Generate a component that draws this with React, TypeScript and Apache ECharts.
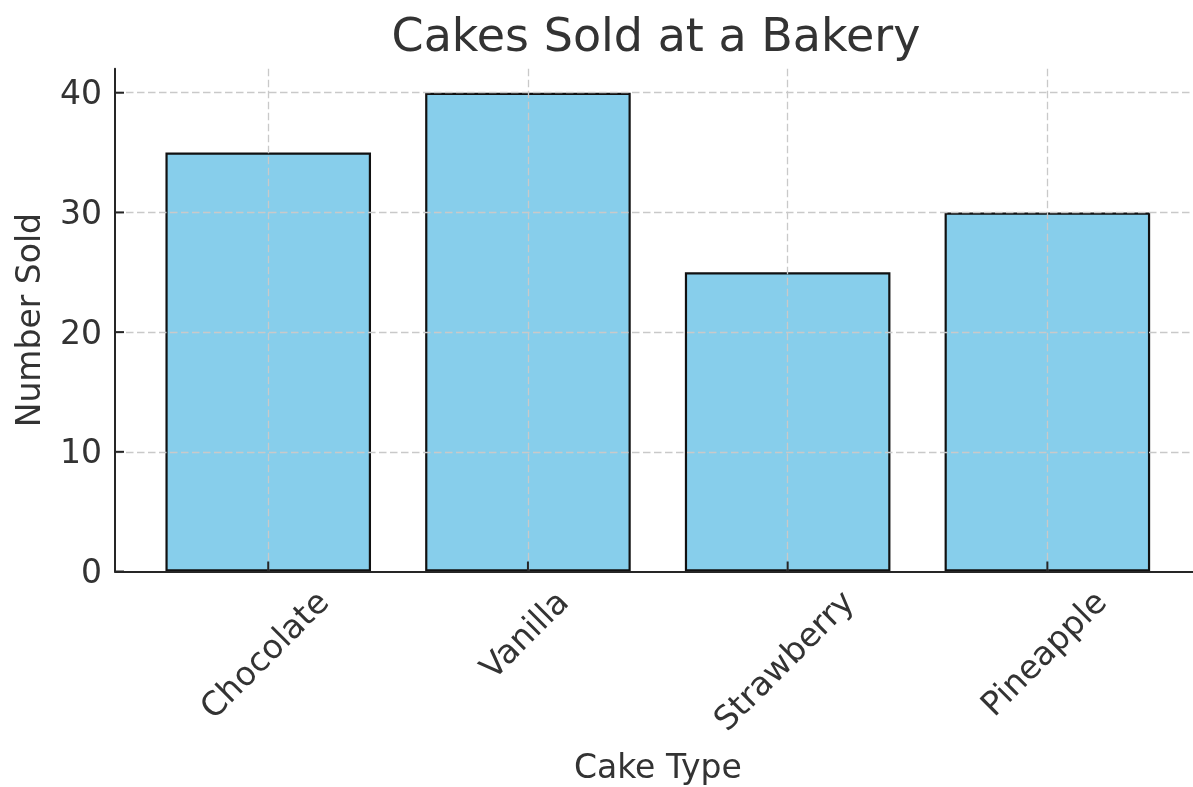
import React, { useEffect, useRef } from 'react';
import * as echarts from 'echarts';

const categories = ['Chocolate', 'Vanilla', 'Strawberry', 'Pineapple'];
const sold = [35, 40, 25, 30];
const yTicks = [0, 10, 20, 30, 40];
const titleText = 'Cakes Sold at a Bakery';
const xName = 'Cake Type';
const yName = 'Number Sold';

const FONT = '"DejaVu Sans", "Liberation Sans", sans-serif';
const W = 1193;
const H = 787;
const PLOT_L = 115;
const PLOT_R = 1200.6;
const PLOT_T = 68.8;
const PLOT_B = 571.5;
const Y_MAX = 42;
const X_MIN = -0.59;
const X_MAX = 3.59;
const UNIT = (PLOT_R - PLOT_L) / (X_MAX - X_MIN);
const FIRST_X = PLOT_L + (0 - X_MIN) * UNIT;
const LAST_X = PLOT_L + (categories.length - 1 - X_MIN) * UNIT;
const BORDER = 2.2;
const LABEL_SIZE = 33;
const TEXT_COLOR = '#333333';
const SPINE = '#262626';
const GRID_COLOR = '#c9c9c9';
const LABEL_TOP_GAP = 24.2;
const X_TICK_LEN = 10;
const Y_TICK_LEN = 9;

function measure(t: string): number {
  const ctx = document.createElement('canvas').getContext('2d');
  if (!ctx) return t.length * LABEL_SIZE * 0.6;
  ctx.font = `${LABEL_SIZE}px "DejaVu Sans"`;
  return ctx.measureText(t).width;
}

const titleGraphic = {
  id: 'title',
  type: 'text',
  x: 656,
  y: 35,
  style: {
    text: titleText,
    fontSize: 46,
    fontFamily: FONT,
    fill: TEXT_COLOR,
    align: 'center',
    verticalAlign: 'middle',
  },
};

export default function App() {
  const ref = useRef<HTMLDivElement>(null);
  useEffect(() => {
    if (!ref.current) return;
    const chart = echarts.init(ref.current, null, { renderer: 'svg' });
    const dashed = { color: GRID_COLOR, width: 1.3, type: [7.5, 3.5] as any };
    chart.setOption({
      animation: false,
      graphic: [titleGraphic],
      grid: [
        {
          left: PLOT_L,
          right: W - PLOT_R,
          top: PLOT_T,
          bottom: H - PLOT_B,
          containLabel: false,
          outerBoundsMode: 'none',
        },
        {
          left: FIRST_X,
          right: W - LAST_X,
          top: PLOT_T,
          bottom: H - PLOT_B,
          containLabel: false,
          outerBoundsMode: 'none',
        },
      ],
      xAxis: [
        {
          gridIndex: 0,
          type: 'value',
          min: 0,
          max: 1,
          z: 5,
          axisLine: { show: true, lineStyle: { color: SPINE, width: 2 } },
          axisTick: { show: false },
          axisLabel: { show: false },
          splitLine: { show: false },
          name: xName,
          nameLocation: 'middle',
          nameGap: 195,
          nameTextStyle: {
            fontSize: 33,
            fontFamily: FONT,
            color: TEXT_COLOR,
            verticalAlign: 'middle',
            align: 'center',
          },
        },
        {
          gridIndex: 1,
          type: 'category',
          data: categories,
          boundaryGap: false,
          z: 5,
          axisLine: { show: false },
          axisTick: { show: false },
          axisLabel: { show: false },
          splitLine: { show: true, lineStyle: dashed },
        },
      ],
      yAxis: [
        {
          gridIndex: 0,
          type: 'value',
          min: 0,
          max: Y_MAX,
          interval: 10,
          z: 5,
          axisLine: { show: true, lineStyle: { color: SPINE, width: 2 } },
          axisTick: { show: false, customValues: yTicks },
          axisLabel: {
            show: true,
            customValues: yTicks,
            margin: 13,
            fontSize: LABEL_SIZE,
            fontFamily: FONT,
            color: TEXT_COLOR,
          },
          splitLine: { show: true, showMinLine: false, lineStyle: dashed },
          name: yName,
          nameLocation: 'middle',
          nameGap: 86.4,
          nameTextStyle: {
            fontSize: 33,
            fontFamily: FONT,
            color: TEXT_COLOR,
            verticalAlign: 'middle',
            align: 'center',
          },
        },
        {
          gridIndex: 1,
          type: 'value',
          min: 0,
          max: Y_MAX,
          show: false,
          splitLine: { show: false },
        },
      ],
      series: [
        {
          type: 'bar',
          xAxisIndex: 1,
          yAxisIndex: 1,
          data: sold,
          barWidth: 0.8 * UNIT - BORDER,
          itemStyle: { color: '#87CEEB', borderColor: '#111111', borderWidth: BORDER },
        },
      ],
    });

    // Rotated category labels, centred under each tick (matplotlib ha="center", rotation=45)
    const labelGraphics = categories.map((c, i) => {
      const px = chart.convertToPixel({ xAxisIndex: 1 }, i) as number;
      const w = measure(c);
      return {
        id: 'xl' + i,
        type: 'text',
        z: 10,
        x: px - 4.2,
        y: PLOT_B + LABEL_TOP_GAP + w / (2 * Math.SQRT2),
        rotation: Math.PI / 4,
        style: {
          text: c,
          fontSize: LABEL_SIZE,
          fontFamily: FONT,
          fill: TEXT_COLOR,
          align: 'center',
          verticalAlign: 'middle',
        },
      };
    });
    // Inward-pointing ticks (matplotlib direction="in")
    const xTickGraphics = categories.map((c, i) => {
      const px = chart.convertToPixel({ xAxisIndex: 1 }, i) as number;
      return {
        id: 'xt' + i,
        type: 'line',
        z: 10,
        shape: { x1: px, y1: PLOT_B, x2: px, y2: PLOT_B - X_TICK_LEN },
        style: { stroke: SPINE, lineWidth: 2 },
      };
    });
    const yTickGraphics = yTicks.map((v, i) => {
      const py = chart.convertToPixel({ yAxisIndex: 0 }, v) as number;
      return {
        id: 'yt' + i,
        type: 'line',
        z: 10,
        shape: { x1: PLOT_L, y1: py, x2: PLOT_L + Y_TICK_LEN, y2: py },
        style: { stroke: SPINE, lineWidth: 2 },
      };
    });
    chart.setOption({
      graphic: [titleGraphic, ...labelGraphics, ...xTickGraphics, ...yTickGraphics],
    });
    return () => chart.dispose();
  }, []);
  return (
    <div
      ref={ref}
      style={{ position: 'fixed', left: 0, top: 0, width: W, height: H }}
    />
  );
}
